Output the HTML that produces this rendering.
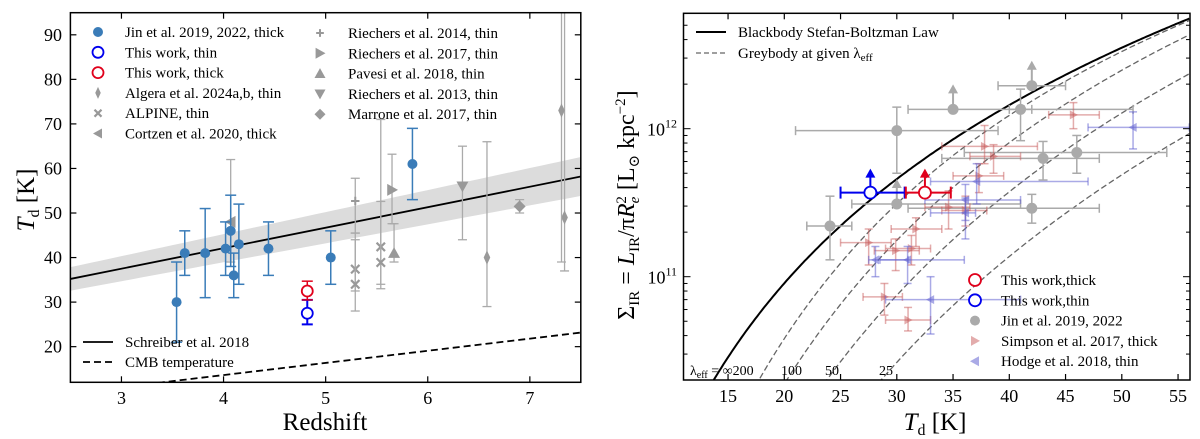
<!DOCTYPE html>
<html><head><meta charset="utf-8"><style>
html,body{margin:0;padding:0;background:#fff;width:1200px;height:439px;overflow:hidden;}
svg{display:block;font-family:"Liberation Serif","DejaVu Serif",serif;overflow:hidden;}
</style></head><body>
<svg id="fig" width="1200" height="439" viewBox="0 0 1200 439" xmlns="http://www.w3.org/2000/svg"></svg>
<script>
// ---------- LEFT PANEL DATA ----------
const leftXTicks=[3,4,5,6,7];
const leftYTicks=[20,30,40,50,60,70,80,90];
const jinZ=[3.54,3.62,3.82,4.02,4.07,4.10,4.15,4.44,5.05,5.85];
const jinT=[30,41,41,42,46,36,43,42,40,61];
const jinLo=[21,36,31,36,38,31,34,36,34,53];
const jinHi=[39,46,51,48,54,41,52,48,46,69];
const thinPt=[4.82,27.5,25,30.5];
const thickPt=[4.82,32.5,30.5,34.7];
const algera=[[6.58,40,29,66],[7.34,49,37,95],[7.31,73,39,95]];
const alpine=[[5.29,37.4,32.5,44],[5.29,34,28,45.5],[5.54,42.4,34,71],[5.54,38.9,33,52.6]];
const cortzen=[[4.07,48,39,62]];
const riech14=[[5.29,52.7,45.5,57.8]];
const riech17=[[5.65,55.2,47.6,63.2]];
const pavesi=[[5.67,41,39,47.6]];
const riech13=[[6.34,56,44,65]];
const marrone=[[6.9,51.5,50,53]];
const schreiberA=32.9, schreiberB=4.6, bandFrac=0.075;

// ---------- RIGHT PANEL DATA ----------
const rightXTicks=[15,20,25,30,35,40,45,50,55];
const rightYTicks=[11,12];
const greyT1=[27.9,44.8,78,144];
const greyBeta=1.8;
const lamLabels=["λ","200","100","50","25"];
const jinR=[[24.06,22,26,2.2e11,1.3e11,3.5e11,0],[30,21,39,9.7e11,5.0e11,1.4e12,0],[30,26,41,3.1e11,0,0,1],[35,31,51,1.35e12,0,0,1],[41,40,42,1.35e12,8.3e11,1.85e12,0],[42,39,45,1.95e12,0,0,1],[43,34,48,6.3e11,4.5e11,8.2e11,0],[46,36,54,6.9e11,5e11,9e11,0],[42,31,48,2.9e11,2.3e11,3.6e11,0]];
const simpson=[[45.7,43.5,48,1.24e12,1.0e12,1.5e12],[37.8,34,42.5,7.6e11,5.8e11,1.05e12],[38.6,36.5,41,6.5e11,5.0e11,7.8e11],[37.3,35,39.5,4.8e11,3.7e11,5.8e11],[34.6,32.5,36.5,2.95e11,2.1e11,3.8e11],[31.7,29.5,34,2.1e11,1.6e11,2.5e11],[27.5,25,29.5,1.7e11,1.2e11,2.1e11],[29.9,28,32,1.5e11,1.1e11,1.8e11],[31.3,29,33,1.55e11,1.2e11,1.9e11],[28.9,27,30.5,7.3e10,5.5e10,9e10],[31.0,29,33,5.1e10,4.3e10,6.2e10],[36.1,34,38,2.8e11,2.2e11,3.5e11]];
const hodge=[[51,47,56,1.02e12,7.3e11,1.3e12],[37.1,33,47,4.4e11,3.1e11,5.8e11],[36.1,32.5,41,3.3e11,2.4e11,4.2e11],[36.1,33,37,2.7e11,1.8e11,3.4e11],[28.1,27.5,31,1.3e11,1.0e11,1.6e11],[30.96,28.5,36,1.3e11,9e10,1.6e11],[33.0,29,41,7.0e10,4.1e10,1.0e11]];
const thinR=[27.65,25,30.7,3.7e11];
const thickR=[32.5,30.8,34.8,3.7e11];

// ---------- helpers ----------
const NS="http://www.w3.org/2000/svg";
const svg=document.getElementById('fig');
function el(tag,attrs,parent){const e=document.createElementNS(NS,tag);for(const k in attrs)e.setAttribute(k,attrs[k]);(parent||svg).appendChild(e);return e;}
function txt(s,x,y,size,anchor,parent){const t=el('text',{x:x,y:y,'font-size':size,'text-anchor':anchor||'start',fill:'#000'},parent);t.textContent=s;return t;}
function marker(g,type,x,y,s,fill,stroke){
  let e;
  if(type==='circle'){e=el('circle',{cx:x,cy:y,r:s,fill:fill,stroke:stroke||'none','stroke-width':1.8},g);}
  else if(type==='ocircle'){e=el('circle',{cx:x,cy:y,r:s,fill:'#fff',stroke:fill,'stroke-width':1.8},g);}
  else if(type==='thindia'){e=el('polygon',{points:`${x},${y-s*1.2} ${x+s*0.55},${y} ${x},${y+s*1.2} ${x-s*0.55},${y}`,fill:fill},g);}
  else if(type==='dia'){e=el('polygon',{points:`${x},${y-s} ${x+s},${y} ${x},${y+s} ${x-s},${y}`,fill:fill},g);}
  else if(type==='x'){e=el('path',{d:`M${x-s*0.7},${y-s*0.7}L${x+s*0.7},${y+s*0.7}M${x-s*0.7},${y+s*0.7}L${x+s*0.7},${y-s*0.7}`,stroke:fill,'stroke-width':2.2},g);}
  else if(type==='plus'){e=el('path',{d:`M${x-s*0.7},${y}L${x+s*0.7},${y}M${x},${y-s*0.7}L${x},${y+s*0.7}`,stroke:fill,'stroke-width':2},g);}
  else if(type==='ltri'){e=el('polygon',{points:`${x-s},${y} ${x+s*0.8},${y-s} ${x+s*0.8},${y+s}`,fill:fill},g);}
  else if(type==='rtri'){e=el('polygon',{points:`${x+s},${y} ${x-s*0.8},${y-s} ${x-s*0.8},${y+s}`,fill:fill},g);}
  else if(type==='utri'){e=el('polygon',{points:`${x},${y-s} ${x+s},${y+s*0.8} ${x-s},${y+s*0.8}`,fill:fill},g);}
  else if(type==='dtri'){e=el('polygon',{points:`${x},${y+s} ${x+s},${y-s*0.8} ${x-s},${y-s*0.8}`,fill:fill},g);}
  return e;
}
function vbar(g,x,y1,y2,color,w,cap){el('line',{x1:x,y1:y1,x2:x,y2:y2,stroke:color,'stroke-width':w},g);el('line',{x1:x-cap,y1:y1,x2:x+cap,y2:y1,stroke:color,'stroke-width':w},g);el('line',{x1:x-cap,y1:y2,x2:x+cap,y2:y2,stroke:color,'stroke-width':w},g);}
function hbar(g,y,x1,x2,color,w,cap){el('line',{x1:x1,y1:y,x2:x2,y2:y,stroke:color,'stroke-width':w},g);el('line',{x1:x1,y1:y-cap,x2:x1,y2:y+cap,stroke:color,'stroke-width':w},g);el('line',{x1:x2,y1:y-cap,x2:x2,y2:y+cap,stroke:color,'stroke-width':w},g);}
function upArrow(g,x,y,color,len){el('line',{x1:x,y1:y,x2:x,y2:y-len,stroke:color,'stroke-width':2},g);el('polygon',{points:`${x},${y-len-7} ${x+5},${y-len+2} ${x-5},${y-len+2}`,fill:color},g);}

// ---------- LEFT PANEL ----------
const L={x0:70.4,x1:580.8,y0:12.7,y1:382.3};
const xL=z=>L.x0+(z-2.5)*102.1;
const yL=T=>L.y1-(T-12)*4.455;
const gL=el('g',{});


const cpL=el('clipPath',{id:'clipL'});el('rect',{x:L.x0,y:L.y0,width:L.x1-L.x0,height:L.y1-L.y0},cpL);
const plotL=el('g',{'clip-path':'url(#clipL)'},gL);
let bandPts=[];for(let i=0;i<=50;i++){const z=2.5+i*0.1;bandPts.push([xL(z),yL((schreiberA+schreiberB*(z-2))*(1+bandFrac))]);}
for(let i=50;i>=0;i--){const z=2.5+i*0.1;bandPts.push([xL(z),yL((schreiberA+schreiberB*(z-2))*(1-bandFrac))]);}
const band=el('polygon',{points:bandPts.map(p=>p.join(',')).join(' '),fill:'#dcdcdc'},plotL);


const sl=el('line',{x1:xL(2.5),y1:yL(schreiberA+schreiberB*0.5),x2:xL(7.5),y2:yL(schreiberA+schreiberB*5.5),stroke:'#000','stroke-width':1.8},plotL);


const cmb=el('line',{x1:xL(2.5),y1:yL(2.725*3.5),x2:xL(7.5),y2:yL(2.725*8.5),stroke:'#000','stroke-width':1.8,'stroke-dasharray':'7,4'},plotL);


const GREY='#999', GERR='#aaa', JIN='#3a7cb8';
function greySet(arr,type,size,name){arr.forEach(d=>{const g=el('g',{},plotL);vbar(g,xL(d[0]),yL(d[2]),yL(d[3]),GERR,1.3,4.5);marker(g,type,xL(d[0]),yL(d[1]),size,GREY);});}
greySet(cortzen,'ltri',6,'cortzen-point');
greySet(alpine,'x',6,'alpine-point');
greySet(riech14,'plus',6,'riechers2014-point');
greySet(riech17,'rtri',6,'riechers2017-point');
greySet(pavesi,'utri',6,'pavesi-point');
greySet(riech13,'dtri',6,'riechers2013-point');
greySet(marrone,'dia',6,'marrone-point');
greySet(algera,'thindia',6,'algera-point');
jinZ.forEach((z,i)=>{const g=el('g',{},plotL);vbar(g,xL(z),yL(jinLo[i]),yL(jinHi[i]),JIN,1.5,5.5);marker(g,'circle',xL(z),yL(jinT[i]),5,JIN);});
(function(){const g=el('g',{},plotL);vbar(g,xL(thinPt[0]),yL(thinPt[2]),yL(thinPt[3]),'#0000ee',2,5.5);marker(g,'ocircle',xL(thinPt[0]),yL(thinPt[1]),5.5,'#0000ee');})();
(function(){const g=el('g',{},plotL);vbar(g,xL(thickPt[0]),yL(thickPt[2]),yL(thickPt[3]),'#e0001b',1.5,5.5);marker(g,'ocircle',xL(thickPt[0]),yL(thickPt[1]),5.5,'#e0001b');})();
el('rect',{x:L.x0,y:L.y0,width:L.x1-L.x0,height:L.y1-L.y0,fill:'none',stroke:'#000','stroke-width':1.5},gL);
leftXTicks.forEach(v=>{const x=xL(v);el('line',{x1:x,y1:L.y1,x2:x,y2:L.y1-6,stroke:'#000','stroke-width':1.2},gL);el('line',{x1:x,y1:L.y0,x2:x,y2:L.y0+6,stroke:'#000','stroke-width':1.2},gL);const t=txt(String(v),x,404,18,'middle',gL);});
leftYTicks.forEach(v=>{const y=yL(v);el('line',{x1:L.x0,y1:y,x2:L.x0+6,y2:y,stroke:'#000','stroke-width':1.2},gL);el('line',{x1:L.x1,y1:y,x2:L.x1-6,y2:y,stroke:'#000','stroke-width':1.2},gL);const t=txt(String(v),62,y+6,18,'end',gL);});
const xtl=txt('Redshift',325,430,25,'middle',gL);
const ytl=el('text',{x:0,y:0,'font-size':25,'text-anchor':'middle',transform:'translate(34,200) rotate(-90)'},gL);

ytl.innerHTML='<tspan font-style="italic">T</tspan><tspan font-size="16" dy="5">d</tspan><tspan dy="-5"> [K]</tspan>';
const legL=[['circle',JIN,'Jin et al. 2019, 2022, thick'],['ocircle','#0000ee','This work, thin'],['ocircle','#e0001b','This work, thick'],['thindia',GREY,'Algera et al. 2024a,b, thin'],['x',GREY,'ALPINE, thin'],['ltri',GREY,'Cortzen et al. 2020, thick']];
const legR=[['plus',GREY,'Riechers et al. 2014, thin'],['rtri',GREY,'Riechers et al. 2017, thin'],['utri',GREY,'Pavesi et al. 2018, thin'],['dtri',GREY,'Riechers et al. 2013, thin'],['dia',GREY,'Marrone et al. 2017, thin']];
legL.forEach((d,i)=>{const g=el('g',{},gL);const y=32+i*20.3;marker(g,d[0],98,y,d[0]==='ocircle'?5.5:5,d[1]);txt(d[2],125,y+5,15,'start',g);});
legR.forEach((d,i)=>{const g=el('g',{},gL);const y=33+i*20.3;marker(g,d[0],320,y,5.5,d[1]);txt(d[2],348,y+5,15,'start',g);});
[['none','Schreiber et al. 2018',342],['7,4','CMB temperature',362]].forEach(d=>{const g=el('g',{},gL);el('line',{x1:83,y1:d[2],x2:113,y2:d[2],stroke:'#000','stroke-width':1.8,'stroke-dasharray':d[0]},g);txt(d[1],125,d[2]+5,15,'start',g);});

// ---------- RIGHT PANEL ----------
const R={x0:683.5,x1:1190,y0:13.3,y1:380};
const xR=T=>R.x0+(T-11.04)*11.25;
const yR=S=>R.y1-(Math.log10(S)-10.302)*148;
const gR=el('g',{});


const cpR=el('clipPath',{id:'clipR'});el('rect',{x:R.x0,y:R.y0,width:R.x1-R.x0,height:R.y1-R.y0},cpR);
const plotR=el('g',{'clip-path':'url(#clipR)'},gR);
const bb=T=>5.64e5*Math.pow(T,4);
function curve(f){let p=[];for(let T=11;T<=56.2;T+=0.2){p.push(xR(T).toFixed(1)+','+yR(f(T)).toFixed(1));}return p.join(' ');}
greyT1.forEach(T1=>{const c=el('polyline',{points:curve(T=>bb(T)*(1-Math.exp(-Math.pow(T/T1,greyBeta)))),fill:'none',stroke:'#666','stroke-width':1.3,'stroke-dasharray':'6,3'},plotR);});
const bbc=el('polyline',{points:curve(bb),fill:'none',stroke:'#000','stroke-width':2},plotR);

const SIM='rgba(200,90,90,0.5)', HOD='rgba(100,100,210,0.55)';
function errPt(d,color,type,name,cap){const g=el('g',{},plotR);const x=xR(d[0]),y=yR(d[3]);hbar(g,y,xR(d[1]),xR(d[2]),color,1.5,cap);if(d[4])vbar(g,x,yR(d[4]),yR(d[5]),color,1.5,cap);return g;}
jinR.forEach(d=>{const g=errPt(d,GERR,'circle','jin-point-right',4.5);if(d[6])upArrow(g,xR(d[0]),yR(d[3]),'#aaa',18);marker(g,'circle',xR(d[0]),yR(d[3]),5.5,'#aaa');});
simpson.forEach(d=>{const g=errPt(d,SIM,'rtri','simpson-point',4);marker(g,'rtri',xR(d[0]),yR(d[3]),4.5,SIM);});
hodge.forEach(d=>{const g=errPt(d,HOD,'ltri','hodge-point',4);marker(g,'ltri',xR(d[0]),yR(d[3]),4.5,HOD);});
[[thinR,'#0000ee','this-work-thin-right'],[thickR,'#e0001b','this-work-thick-right']].forEach(a=>{const d=a[0];const g=el('g',{},plotR);hbar(g,yR(d[3]),xR(d[1]),xR(d[2]),a[1],2,6);upArrow(g,xR(d[0]),yR(d[3]),a[1],17);marker(g,'ocircle',xR(d[0]),yR(d[3]),6,a[1]);});
el('rect',{x:R.x0,y:R.y0,width:R.x1-R.x0,height:R.y1-R.y0,fill:'none',stroke:'#000','stroke-width':1.5},gR);
rightXTicks.forEach(v=>{const x=xR(v);el('line',{x1:x,y1:R.y1,x2:x,y2:R.y1-6,stroke:'#000','stroke-width':1.2},gR);el('line',{x1:x,y1:R.y0,x2:x,y2:R.y0+6,stroke:'#000','stroke-width':1.2},gR);const t=txt(String(v),x,402,18,'middle',gR);});
for(let e=10;e<=12;e++){for(let m=1;m<10;m++){const S=m*Math.pow(10,e);const y=yR(S);if(y<R.y0||y>R.y1)continue;const len=m===1?7:4;el('line',{x1:R.x0,y1:y,x2:R.x0+len,y2:y,stroke:'#000','stroke-width':1},gR);el('line',{x1:R.x1,y1:y,x2:R.x1-len,y2:y,stroke:'#000','stroke-width':1},gR);}}
rightYTicks.forEach(v=>{const y=yR(Math.pow(10,v));const t=el('text',{x:677,y:y+7,'font-size':18,'text-anchor':'end'},gR);t.innerHTML='10<tspan font-size="12" dy="-8">'+v+'</tspan>';});
const xtr=el('text',{x:935,y:430,'font-size':25,'text-anchor':'middle'},gR);

xtr.innerHTML='<tspan font-style="italic">T</tspan><tspan font-size="16" dy="5">d</tspan><tspan dy="-5"> [K]</tspan>';
const ytr=el('text',{x:0,y:0,'font-size':24,'text-anchor':'middle',transform:'translate(634,205) rotate(-90)'},gR);

ytr.innerHTML='Σ<tspan font-size="15" dy="5">IR</tspan><tspan dy="-5"> = </tspan><tspan font-style="italic">L</tspan><tspan font-size="15" dy="5">IR</tspan><tspan dy="-5">/π</tspan><tspan font-style="italic">R</tspan><tspan font-size="15" font-style="italic" dy="5">e</tspan><tspan font-size="15" dx="-7" dy="-13">2</tspan><tspan dy="8"> [L</tspan><tspan font-size="15" dy="5">⊙</tspan><tspan dy="-5"> kpc</tspan><tspan font-size="15" dy="-9">−2</tspan><tspan dy="9">]</tspan>';
[['none','Blackbody Stefan-Boltzman Law',32,'#000',2],['5,3','Greybody at given λ',53,'#666',1.3]].forEach((d,i)=>{const g=el('g',{},gR);el('line',{x1:696,y1:d[2],x2:726,y2:d[2],stroke:d[3],'stroke-width':d[4],'stroke-dasharray':d[0]},g);const t=txt(d[1],738,d[2]+5,15,'start',g);if(i===1){const s=el('tspan',{'font-size':11,dy:3},t);s.textContent='eff';}});
const legR2=[['ocircle','#e0001b','This work,thick'],['ocircle','#0000ee','This work,thin'],['circle','#aaa','Jin et al. 2019, 2022'],['rtri',SIM,'Simpson et al. 2017, thick'],['ltri',HOD,'Hodge et al. 2018, thin']];
legR2.forEach((d,i)=>{const g=el('g',{},gR);const y=280+i*20.3;marker(g,d[0],975,y,d[0]==='ocircle'?6:5,d[1]);txt(d[2],1001,y+5,15,'start',g);});
const lamG=el('g',{},gR);
const lt=txt('',690,375,14,'start',lamG);lt.innerHTML='λ<tspan font-size="10" dy="3">eff</tspan><tspan dy="-3"> = ∞200</tspan>';
txt(lamLabels[2],781,375,14,'start',lamG);txt(lamLabels[3],825,375,14,'start',lamG);txt(lamLabels[4],879,375,14,'start',lamG);
</script>
</body></html>
